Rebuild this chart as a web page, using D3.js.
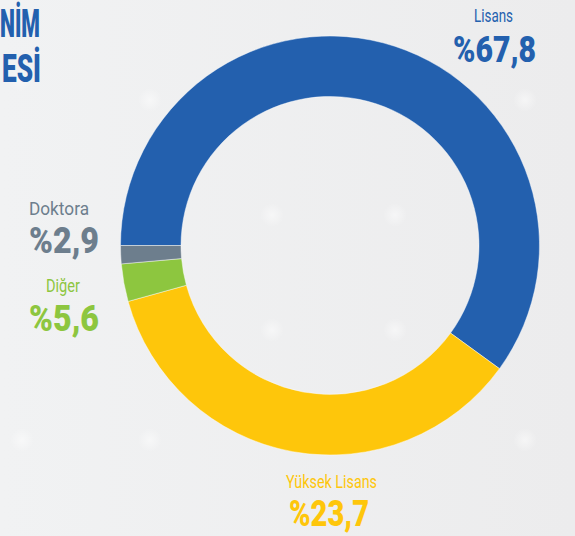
<!DOCTYPE html>
<html>
<head>
<meta charset="utf-8">
<script src="https://cdn.jsdelivr.net/npm/d3@7"></script>
<style>
  html, body { margin: 0; padding: 0; background: #eeeff0; }
  svg { display: block; }
</style>
</head>
<body>
<svg id="chart" width="575" height="536"></svg>
<script>
// data
const categories = ["Lisans", "Yüksek Lisans", "Diğer", "Doktora"];
const labelValues = ["67,8", "23,7", "5,6", "2,9"];      // printed percentages
const arcShares = [60.0, 35.7, 2.9, 1.4];                 // share of the ring as drawn in the picture
const titleParts = ["NİM", "ESİ"];

const colors = ["#2360ae", "#fec60b", "#8dc63f", "#6d7e8d"];

// label placement (start x, baseline of name, baseline of value, widths)
const labelLayout = {
  "Lisans":        { x1: 474, w1: 39, y1: 22,  x2: 453, w2: 83, y2: 62 },
  "Yüksek Lisans": { x1: 286, w1: 91, y1: 488, x2: 289, w2: 80, y2: 526 },
  "Diğer":         { x1: 46,  w1: 34, y1: 292, x2: 29,  w2: 70, y2: 331 },
  "Doktora":       { x1: 29,  w1: 60, y1: 215, x2: 29,  w2: 70, y2: 253 }
};

function run() {
  let svg = d3.select("#chart");
  let cx = 330, cy = 245.5;
  let outer = 209.5, inner = 149;

  // background
  let defs = svg.append("defs");
  let bg = defs.append("linearGradient").attr("id", "bg").attr("x1", 0).attr("x2", 1).attr("y1", 0).attr("y2", 0);
  bg.append("stop").attr("offset", "0%").attr("stop-color", "#f1f2f3");
  bg.append("stop").attr("offset", "100%").attr("stop-color", "#ececed");
  let glow = defs.append("radialGradient").attr("id", "glow");
  glow.append("stop").attr("offset", "0%").attr("stop-color", "#ffffff").attr("stop-opacity", 0.8);
  glow.append("stop").attr("offset", "100%").attr("stop-color", "#ffffff").attr("stop-opacity", 0);

  svg.append("rect").attr("width", 575).attr("height", 536).attr("fill", "url(#bg)");

  // faint light spots of the backdrop
  let spots = [[150, 100], [525, 100], [272, 215], [395, 215], [272, 330], [395, 330], [150, 440], [525, 440], [20, 80], [22, 440]];
  svg.selectAll(".spot").data(spots).enter().append("circle")
    .attr("class", "spot")
    .attr("cx", d => d[0]).attr("cy", d => d[1]).attr("r", 12)
    .attr("fill", "url(#glow)").attr("opacity", 0.6);

  // title fragment
  svg.selectAll(".title").data(titleParts).enter().append("text")
    .attr("class", "title")
    .attr("x", (d, i) => i == 0 ? 0 : 2)
    .attr("y", (d, i) => i == 0 ? 37 : 82)
    .attr("textLength", (d, i) => i == 0 ? 40 : 39)
    .attr("lengthAdjust", "spacingAndGlyphs")
    .style("font-family", "Roboto, sans-serif")
    .style("font-weight", 900)
    .style("font-size", "39px")
    .style("fill", "#2360ae")
    .text(d => d);

  // ring
  let pie = d3.pie().sort(null).value(d => d.share)
    .startAngle(-Math.PI / 2).endAngle(1.5 * Math.PI);
  let arc = d3.arc().innerRadius(inner).outerRadius(outer);
  let rows = categories.map((c, i) => ({ cat: c, share: arcShares[i], label: labelValues[i], color: colors[i] }));

  let g = svg.append("g").attr("transform", `translate(${cx},${cy})`);
  g.selectAll("path").data(pie(rows)).enter().append("path")
    .attr("d", arc)
    .attr("fill", d => d.data.color)
    .attr("stroke", "rgba(255,255,255,0.55)")
    .attr("stroke-width", 0.8);

  // labels
  let lab = svg.selectAll(".lab").data(rows).enter().append("g").attr("class", "lab");
  lab.append("text")
    .attr("x", d => labelLayout[d.cat].x1)
    .attr("y", d => labelLayout[d.cat].y1)
    .attr("textLength", d => labelLayout[d.cat].w1)
    .attr("lengthAdjust", "spacingAndGlyphs")
    .style("font-family", "Roboto, sans-serif")
    .style("font-size", "19px")
    .style("fill", d => d.color)
    .text(d => d.cat);
  lab.append("text")
    .attr("x", d => labelLayout[d.cat].x2)
    .attr("y", d => labelLayout[d.cat].y2)
    .attr("textLength", d => labelLayout[d.cat].w2)
    .attr("lengthAdjust", "spacingAndGlyphs")
    .style("font-family", "Roboto, sans-serif")
    .style("font-weight", 900)
    .style("font-size", "37px")
    .style("fill", d => d.color)
    .text(d => "%" + d.label);
}

run();
</script>
</body>
</html>
